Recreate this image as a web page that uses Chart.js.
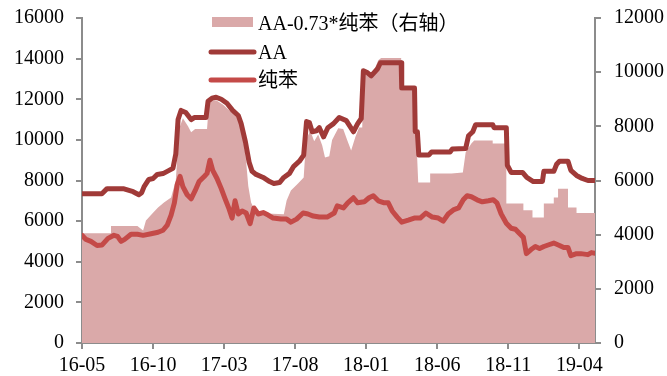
<!DOCTYPE html>
<html>
<head>
<meta charset="utf-8">
<script src="https://cdn.jsdelivr.net/npm/chart.js@4"></script>
<style>
  html, body { margin: 0; padding: 0; background: #fff; overflow: hidden; }
</style>
</head>
<body>
<canvas id="myChart" width="667" height="387"></canvas>
<script>
// x = months since 2016-05
const tickLabels = ['16-05', '16-10', '17-03', '17-08', '18-01', '18-06', '18-11', '19-04'];
const seriesNames = ['AA-0.73*纯苯（右轴）', 'AA', '纯苯'];

// AA-0.73*纯苯, right axis
const spread = [[0,4050],[2.04,4050],[2.04,4320],[3.9,4320],[4.3,4150],[4.5,4520],[5.0,4810],
  [5.35,5000],[5.77,5190],[6.27,5370],[6.6,6000],[6.83,7900],[7.1,8300],[7.46,8000],[7.68,7780],
  [7.96,7900],[8.8,7900],[8.94,8900],[9.44,8960],[9.93,8800],[10.5,8520],[11,8410],[11.2,7960],[11.5,7000],
  [11.7,5800],[11.9,5190],[12.25,4800],[14.2,4750],[14.4,5260],[14.7,5630],[15.2,5890],[15.6,6110],[15.77,7500],
  [16.06,7850],[16.34,7450],[16.62,7700],[16.9,7300],[17.1,6850],[17.4,6900],[17.6,7500],[18.03,7930],
  [18.38,7900],[18.66,7500],[18.94,7110],[19.23,7600],[19.5,7960],[19.72,7960],[19.8,9960],[20.35,9810],
  [20.85,10440],[21.05,10520],[22.46,10520],
  [22.46,9330],[23.4,9330],[23.5,7900],[23.66,5930],[24.5,5930],[24.5,6260],[26,6260],[26.8,6300],[27.0,7040],
  [27.4,7370],[27.6,7480],[28.9,7480],[28.9,7370],[29.86,7370],[29.86,5150],[31.06,5150],[31.06,4900],
  [31.7,4900],[31.7,4630],[32.5,4630],[32.5,5150],[33.2,5150],[33.2,5370],[33.5,5370],[33.5,5700],[34.2,5700],
  [34.2,5000],[34.8,5000],[34.8,4800],[36.1,4800]];

// AA, left axis
const aa = [[0,7350],[1.4,7350],[1.76,7600],[2.9,7600],[3.6,7450],[4.0,7300],[4.2,7400],[4.37,7700],[4.7,8050],
  [5.0,8100],[5.3,8300],[5.7,8340],[6.13,8500],[6.4,8600],[6.6,9300],[6.76,11000],[6.97,11450],[7.3,11350],
  [7.68,11000],[7.9,11100],[8.73,11100],[8.87,11900],[9.15,12050],[9.44,12100],[9.8,12000],[10.2,11800],
  [10.6,11450],[11.0,11200],[11.2,10800],[11.5,9900],[11.76,8900],[11.97,8450],[12.25,8300],[12.75,8150],
  [13.2,7950],[13.5,7850],[13.9,7900],[14.2,8150],[14.6,8350],[14.9,8700],[15.3,8950],[15.6,9250],[15.8,10900],
  [16.0,10850],[16.2,10400],[16.5,10450],[16.7,10600],[17.0,10150],[17.3,10600],[17.7,10800],[18.1,11100],
  [18.6,10950],[19.1,10400],[19.4,10800],[19.65,11050],[19.8,13400],[20.1,13300],[20.35,13150],[20.8,13500],
  [21.0,13800],[22.46,13800],[22.5,12550],[23.4,12550],[23.45,10400],[23.6,10400],[23.7,9250],[24.4,9250],
  [24.6,9400],[25.9,9400],[26.06,9550],[27.0,9580],[27.2,10200],[27.5,10400],[27.7,10750],[28.9,10750],
  [29.0,10600],[29.86,10600],[29.93,8750],[30.2,8400],[31.0,8400],[31.3,8150],[31.76,7950],[32.4,7950],
  [32.5,8450],[33.2,8450],[33.4,8800],[33.6,8950],[34.2,8950],[34.4,8500],[34.8,8250],[35.2,8100],
  [35.6,8000],[36.1,8000]];

// 纯苯, left axis
const benzene = [[0,5300],[0.28,5100],[0.63,5000],[1.06,4800],[1.4,4820],[1.83,5150],[2.25,5300],[2.5,5250],
  [2.75,5000],[3.0,5100],[3.45,5350],[3.9,5350],[4.3,5300],[4.86,5380],[5.35,5450],[5.7,5550],[6.0,5800],
  [6.27,6300],[6.5,6900],[6.7,7800],[6.9,8200],[7.1,7700],[7.4,7300],[7.68,7100],[7.96,7500],[8.24,7950],
  [8.6,8200],[8.8,8350],[9.0,9000],[9.2,8500],[9.5,8100],[9.8,7600],[10.07,7100],[10.35,6600],[10.56,6150],
  [10.77,7000],[11.0,6350],[11.27,6500],[11.55,6400],[11.83,5880],[12.1,6650],[12.4,6350],[12.75,6420],
  [13.1,6300],[13.45,6150],[14.0,6100],[14.4,6100],[14.7,5950],[15.1,6100],[15.56,6400],[15.9,6350],
  [16.27,6250],[16.7,6200],[17.25,6200],[17.75,6400],[17.96,6750],[18.4,6650],[18.7,6900],[19.1,7150],
  [19.4,6900],[19.86,6950],[20.2,7150],[20.5,7250],[20.85,7000],[21.27,6900],[21.55,6900],[21.83,6500],
  [22.18,6200],[22.5,5950],[22.96,6050],[23.38,6150],[23.8,6150],[24.2,6400],[24.65,6200],[25.07,6150],
  [25.42,6000],[25.77,6350],[26.13,6550],[26.5,6650],[26.83,7050],[27.1,7250],[27.4,7200],[27.8,7050],
  [28.17,6950],[28.6,7000],[28.94,7050],[29.2,6900],[29.5,6350],[29.86,5900],[30.2,5650],[30.5,5600],
  [30.77,5400],[31.06,5200],[31.27,4400],[31.6,4600],[31.9,4750],[32.2,4650],[32.5,4750],[32.9,4850],
  [33.2,4920],[33.6,4800],[33.9,4700],[34.2,4700],[34.4,4300],[34.8,4400],[35.1,4400],[35.6,4350],
  [35.85,4450],[36.1,4420]];

const areaColor = '#daa9a9';
const aaColor = '#a03a38';
const bzColor = '#c44a48';
const axisColor = '#8c8c8c';
const font = { family: '"Liberation Serif", "Noto Sans CJK SC", serif', size: 20 };

function toPoints(list) {
  return list.map(p => ({ x: p[0], y: p[1] }));
}

// no extra room above/below for the end labels of the value axes
function noLabelPadding(scale) {
  scale.paddingTop = 0;
  scale.paddingBottom = 0;
}

// legend drawn by hand, stacked like the original
const legendPlugin = {
  id: 'stackedLegend',
  afterDraw(chart) {
    const ctx = chart.ctx;
    ctx.save();
    ctx.fillStyle = areaColor;
    ctx.fillRect(212, 17, 41, 10);
    ctx.lineWidth = 5;
    ctx.lineCap = 'round';
    ctx.strokeStyle = aaColor;
    ctx.beginPath(); ctx.moveTo(211, 52); ctx.lineTo(254, 52); ctx.stroke();
    ctx.strokeStyle = bzColor;
    ctx.beginPath(); ctx.moveTo(211, 80); ctx.lineTo(254, 80); ctx.stroke();
    ctx.fillStyle = '#000';
    ctx.font = '20px "Liberation Serif", "Noto Sans CJK SC", serif';
    ctx.textBaseline = 'alphabetic';
    ctx.fillText(seriesNames[0], 258, 30);
    ctx.fillText(seriesNames[1], 258, 59);
    ctx.fillText(seriesNames[2], 258, 87);
    ctx.restore();
  }
};

let canva = document.getElementById('myChart').getContext('2d');

let myChart = new Chart(canva, {
  type: 'line',
  data: {
    datasets: [
      {
        label: seriesNames[0],
        data: toPoints(spread),
        yAxisID: 'y1',
        backgroundColor: areaColor,
        borderWidth: 0,
        fill: 'origin',
        pointRadius: 0,
        tension: 0,
        order: 3
      },
      {
        label: seriesNames[1],
        data: toPoints(aa),
        yAxisID: 'y',
        borderColor: aaColor,
        borderWidth: 5,
        borderJoinStyle: 'round',
        borderCapStyle: 'round',
        fill: false,
        pointRadius: 0,
        tension: 0,
        order: 2
      },
      {
        label: seriesNames[2],
        data: toPoints(benzene),
        yAxisID: 'y',
        borderColor: bzColor,
        borderWidth: 5,
        borderJoinStyle: 'round',
        borderCapStyle: 'round',
        fill: false,
        pointRadius: 0,
        tension: 0,
        order: 1
      }
    ]
  },
  options: {
    responsive: false,
    animation: false,
    layout: { padding: { left: 2, right: -10, top: 18, bottom: 4 } },
    plugins: {
      legend: { display: false },
      tooltip: { enabled: false }
    },
    scales: {
      x: {
        type: 'linear',
        min: 0,
        max: 36.1,
        afterBuildTicks: scale => { scale.ticks = tickLabels.map((l, i) => ({ value: i * 5 })); },
        ticks: {
          autoSkip: false,
          maxRotation: 0,
          padding: 5,
          color: '#000',
          font: font,
          callback: v => tickLabels[Math.round(v / 5)]
        },
        grid: { drawOnChartArea: false, color: axisColor, lineWidth: 2, tickLength: 6 },
        border: { color: axisColor, width: 2 }
      },
      y: {
        position: 'left',
        min: 0,
        max: 16000,
        afterFit: noLabelPadding,
        ticks: { stepSize: 2000, padding: 12, color: '#000', font: font, callback: v => String(v) },
        grid: { drawOnChartArea: false, color: axisColor, lineWidth: 2, tickLength: 6 },
        border: { color: axisColor, width: 2 }
      },
      y1: {
        position: 'right',
        min: 0,
        max: 12000,
        afterFit: noLabelPadding,
        ticks: { stepSize: 2000, padding: 13, color: '#000', font: font, callback: v => String(v) },
        grid: { drawOnChartArea: false, color: axisColor, lineWidth: 2, tickLength: 6 },
        border: { color: axisColor, width: 2 }
      }
    }
  },
  plugins: [legendPlugin]
});
</script>
</body>
</html>
